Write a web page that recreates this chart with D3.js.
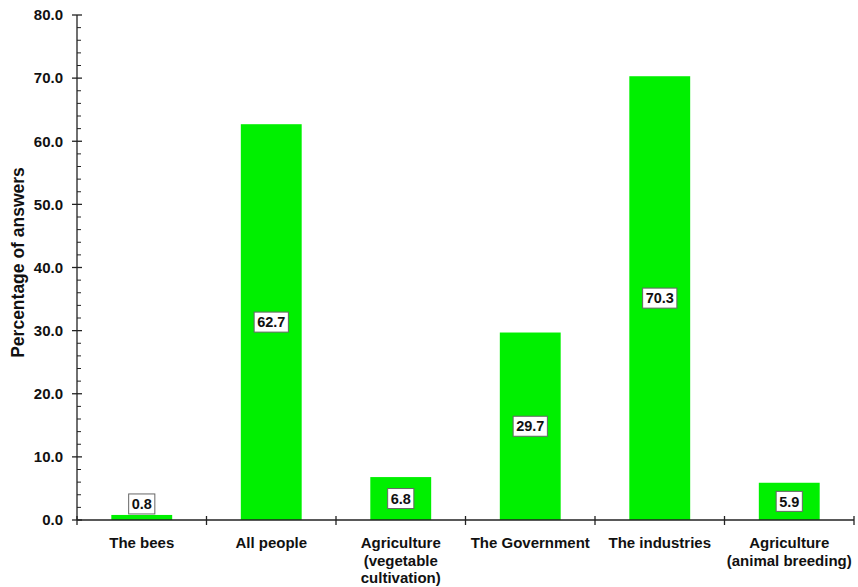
<!DOCTYPE html>
<html>
<head>
<meta charset="utf-8">
<script src="https://cdn.jsdelivr.net/npm/d3@7"></script>
<style>
  body { margin: 0; background: #fff; }
  text { font-family: "Liberation Sans", Arial, Helvetica, sans-serif; font-weight: bold; }
</style>
</head>
<body>
<svg width="858" height="587"></svg>
<script>
var categories = [
  ["The bees"],
  ["All people"],
  ["Agriculture", "(vegetable", "cultivation)"],
  ["The Government"],
  ["The industries"],
  ["Agriculture", "(animal breeding)"]
];
var values = [0.8, 62.7, 6.8, 29.7, 70.3, 5.9];
var yTicks = [0, 10, 20, 30, 40, 50, 60, 70, 80];

var svg = d3.select("svg");
var plotLeft = 77, plotRight = 854, plotTop = 15, plotBottom = 520;

var x = d3.scaleBand()
  .domain(d3.range(values.length))
  .range([plotLeft, plotRight])
  .paddingInner(0.53)
  .paddingOuter(0.265);

var y = d3.scaleLinear().domain([0, 80]).range([plotBottom, plotTop]);

// bars
svg.selectAll(".bar")
  .data(values)
  .enter()
  .append("rect")
  .attr("x", function (d, i) { return x(i); })
  .attr("y", function (d) { return y(d); })
  .attr("width", x.bandwidth())
  .attr("height", function (d) { return plotBottom - y(d); })
  .attr("fill", "#00f000");

// y axis
var g = svg.append("g");
g.append("line")
  .attr("x1", plotLeft).attr("x2", plotLeft)
  .attr("y1", plotTop).attr("y2", plotBottom)
  .attr("stroke", "#222").attr("stroke-width", 1.3);

// minor ticks every 2
var minor = d3.range(0, 80.01, 2).filter(function (v) { return v % 10 !== 0; });
g.selectAll(".minor")
  .data(minor)
  .enter()
  .append("line")
  .attr("x1", plotLeft).attr("x2", plotLeft + 4)
  .attr("y1", function (d) { return y(d); })
  .attr("y2", function (d) { return y(d); })
  .attr("stroke", "#222").attr("stroke-width", 1);

g.selectAll(".major")
  .data(yTicks)
  .enter()
  .append("line")
  .attr("x1", plotLeft - 5).attr("x2", plotLeft + 5)
  .attr("y1", function (d) { return y(d); })
  .attr("y2", function (d) { return y(d); })
  .attr("stroke", "#222").attr("stroke-width", 1.3);

g.selectAll(".ylab")
  .data(yTicks)
  .enter()
  .append("text")
  .attr("x", plotLeft - 14)
  .attr("y", function (d) { return y(d); })
  .attr("dy", "0.35em")
  .attr("text-anchor", "end")
  .attr("font-size", 15)
  .attr("fill", "#111")
  .text(function (d) { return d.toFixed(1); });

svg.append("text")
  .attr("transform", "translate(24," + ((plotTop + plotBottom) / 2 - 5) + ") rotate(-90)")
  .attr("text-anchor", "middle")
  .attr("font-size", 17.5)
  .attr("fill", "#111")
  .text("Percentage of answers");

// x axis
svg.append("line")
  .attr("x1", plotLeft).attr("x2", plotRight)
  .attr("y1", plotBottom).attr("y2", plotBottom)
  .attr("stroke", "#222").attr("stroke-width", 1.3);

var step = x.step();
var xTicks = d3.range(values.length + 1).map(function (i) { return plotLeft + i * step; });
svg.selectAll(".xtick")
  .data(xTicks)
  .enter()
  .append("line")
  .attr("x1", function (d) { return d; })
  .attr("x2", function (d) { return d; })
  .attr("y1", plotBottom - 4).attr("y2", plotBottom + 5)
  .attr("stroke", "#222").attr("stroke-width", 1.3);

var xl = svg.selectAll(".xlab")
  .data(categories)
  .enter()
  .append("text")
  .attr("text-anchor", "middle")
  .attr("font-size", 15)
  .attr("fill", "#111");

xl.each(function (lines, i) {
  var t = d3.select(this);
  lines.forEach(function (s, k) {
    t.append("tspan")
      .attr("x", x(i) + x.bandwidth() / 2)
      .attr("y", 548 + k * 17.5)
      .text(s);
  });
});

// value labels
var boxH = 20;
values.forEach(function (v, i) {
  var cx = x(i) + x.bandwidth() / 2;
  var h = plotBottom - y(v);
  var cy = h < boxH + 4 ? y(v) - boxH / 2 - 1 : y(v) + h / 2;
  var lab = svg.append("g");
  var txt = lab.append("text")
    .attr("x", cx)
    .attr("y", cy)
    .attr("dy", "0.36em")
    .attr("text-anchor", "middle")
    .attr("font-size", 14.5)
    .attr("fill", "#111")
    .text(v.toFixed(1));
  var bb = txt.node().getBBox();
  lab.insert("rect", "text")
    .attr("x", bb.x - 3)
    .attr("y", cy - boxH / 2)
    .attr("width", bb.width + 6)
    .attr("height", boxH)
    .attr("fill", "#fff")
    .attr("stroke", "#666")
    .attr("stroke-width", 1);
});
</script>
</body>
</html>
